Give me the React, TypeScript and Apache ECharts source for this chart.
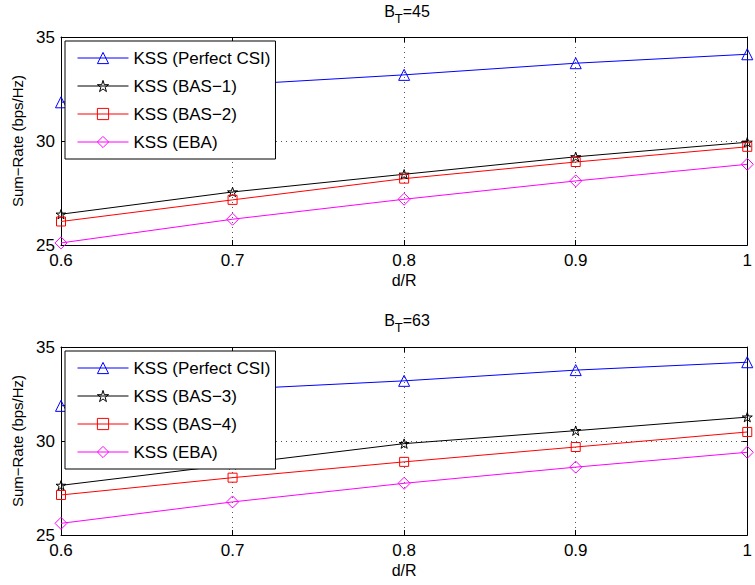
import React, { useEffect, useRef } from "react";
import * as echarts from "echarts";

const xValues = [0.6, 0.7, 0.8, 0.9, 1.0];

// Panel 1: B_T = 45
const perfect45 = [31.86, 32.7, 33.18, 33.74, 34.17];
const bas1 = [26.48, 27.55, 28.4, 29.24, 29.94];
const bas2 = [26.13, 27.17, 28.19, 28.99, 29.72];
const eba45 = [25.1, 26.24, 27.2, 28.08, 28.88];

// Panel 2: B_T = 63
const perfect63 = [31.87, 32.75, 33.2, 33.77, 34.19];
const bas3 = [27.64, 28.75, 29.86, 30.55, 31.27];
const bas4 = [27.13, 28.05, 28.89, 29.68, 30.48];
const eba63 = [25.62, 26.76, 27.75, 28.61, 29.4];

const panelTitles = ["45", "63"];
const namesTop = ["KSS (Perfect CSI)", "KSS (BAS\u22121)", "KSS (BAS\u22122)", "KSS (EBA)"];
const namesBottom = ["KSS (Perfect CSI)", "KSS (BAS\u22123)", "KSS (BAS\u22124)", "KSS (EBA)"];
const xTickLabels = ["0.6", "0.7", "0.8", "0.9", "1"];
const yTicks = [25, 30, 35];

const FONT = "Liberation Sans, Arial, Helvetica, sans-serif";
const STAR =
  "path://M50,2 L61.2,36.2 L97.5,36.2 L68.2,57.4 L79.4,91.6 L50,70.4 L20.6,91.6 L31.8,57.4 L2.5,36.2 L38.8,36.2 Z";

const styles = [
  { color: "#0000ff", symbol: "triangle", size: 11 },
  { color: "#000000", symbol: STAR, size: 10 },
  { color: "#ff0000", symbol: "rect", size: 9 },
  { color: "#ff00ff", symbol: "diamond", size: 12 },
];

const grids = [
  { left: 61, top: 37, right: 2, height: 208 },
  { left: 61, top: 347, right: 2, height: 188 },
];

export default function App() {
  const ref = useRef<HTMLDivElement>(null);
  useEffect(() => {
    if (!ref.current) return;
    const chart = echarts.init(ref.current, null, { renderer: "svg" });

    const xAxis: any[] = [];
    const yAxis: any[] = [];
    grids.forEach((_, g) => {
      const dotted = { show: true, lineStyle: { color: "#555", width: 1, type: [1, 4] } };
      xAxis.push({
        type: "value",
        gridIndex: g,
        min: 0.6,
        max: 1.0,
        interval: 0.1,
        position: "bottom",
        axisLine: { lineStyle: { color: "#000", width: 1 } },
        axisTick: { inside: true, length: 5, lineStyle: { color: "#000" } },
        axisLabel: {
          color: "#000",
          fontSize: 17,
          fontFamily: FONT,
          margin: 7,
          formatter: (v: number) => {
            const i = Math.round((v - 0.6) / 0.1);
            return xTickLabels[i] ?? "";
          },
        },
        splitLine: dotted,
        name: "d/R",
        nameLocation: "middle",
        nameGap: 27,
        nameTextStyle: { color: "#000", fontSize: 16, fontFamily: FONT },
      });
      xAxis.push({
        type: "value",
        gridIndex: g,
        min: 0.6,
        max: 1.0,
        interval: 0.1,
        position: "top",
        axisLine: { lineStyle: { color: "#000", width: 1 } },
        axisTick: { inside: true, length: 5, lineStyle: { color: "#000" } },
        axisLabel: { show: false },
        splitLine: { show: false },
      });
      yAxis.push({
        type: "value",
        gridIndex: g,
        min: yTicks[0],
        max: yTicks[yTicks.length - 1],
        interval: 5,
        position: "left",
        axisLine: { show: true, lineStyle: { color: "#000", width: 1 } },
        axisTick: { show: true, inside: true, length: 5, lineStyle: { color: "#000" } },
        axisLabel: { color: "#000", fontSize: 17, fontFamily: FONT, margin: 6 },
        splitLine: dotted,
        name: "Sum\u2212Rate (bps/Hz)",
        nameLocation: "middle",
        nameGap: 32,
        nameTextStyle: { color: "#000", fontSize: 15, fontFamily: FONT },
      });
      yAxis.push({
        type: "value",
        gridIndex: g,
        min: yTicks[0],
        max: yTicks[yTicks.length - 1],
        interval: 5,
        position: "right",
        axisLine: { show: true, lineStyle: { color: "#000", width: 1 } },
        axisTick: { show: true, inside: true, length: 5, lineStyle: { color: "#000" } },
        axisLabel: { show: false },
        splitLine: { show: false },
      });
    });

    const panelData = [
      [perfect45, bas1, bas2, eba45],
      [perfect63, bas3, bas4, eba63],
    ];
    const panelNames = [namesTop, namesBottom];
    const series: any[] = [];
    panelData.forEach((sets, g) => {
      sets.forEach((vals, k) => {
        const st = styles[k];
        series.push({
          type: "line",
          name: panelNames[g][k],
          xAxisIndex: g * 2,
          yAxisIndex: g * 2,
          data: xValues.map((x, i) => [x, vals[i]]),
          symbol: st.symbol,
          symbolSize: st.size,
          symbolKeepAspect: true,
          showSymbol: true,
          clip: false,
          lineStyle: { color: st.color, width: 1 },
          itemStyle: { color: "rgba(0,0,0,0)", borderColor: st.color, borderWidth: 1 },
          emphasis: { disabled: true },
        });
      });
    });

    const legendBase = {
      orient: "vertical",
      left: 65,
      padding: [7, 5, 7, 12],
      itemGap: 8,
      itemWidth: 51,
      itemHeight: 14,
      textStyle: { color: "#000", fontSize: 17, lineHeight: 20, fontFamily: FONT },
      itemStyle: { borderWidth: 1, color: "rgba(0,0,0,0)" },
      lineStyle: { width: 1 },
      backgroundColor: "#fff",
      borderColor: "#000",
      borderWidth: 1,
      borderRadius: 0,
      selectedMode: false,
    };

    const titleEl = (label: string, y: number) => ({
      type: "text",
      x: 407,
      y,
      style: {
        text: `{b|B}{s|T}{b|=${label}}`,
        align: "center",
        verticalAlign: "top",
        rich: {
          b: { fontSize: 16, fontFamily: FONT, fill: "#000", verticalAlign: "top", lineHeight: 16 },
          s: {
            fontSize: 13,
            fontFamily: FONT,
            fill: "#000",
            verticalAlign: "top",
            lineHeight: 13,
            padding: [9, 0, 0, 0],
          },
        },
      },
    });

    chart.setOption({
      animation: false,
      backgroundColor: "#fff",
      grid: grids.map((g) => ({ ...g, containLabel: false })),
      xAxis,
      yAxis,
      legend: [
        { ...legendBase, top: 41, data: namesTop },
        { ...legendBase, top: 351, data: namesBottom },
      ],
      graphic: [titleEl(panelTitles[0], 3), titleEl(panelTitles[1], 312)],
      series,
    });
    return () => chart.dispose();
  }, []);
  return (
    <div
      ref={ref}
      style={{ position: "fixed", left: 0, top: 0, width: 755, height: 585, background: "#fff" }}
    />
  );
}
